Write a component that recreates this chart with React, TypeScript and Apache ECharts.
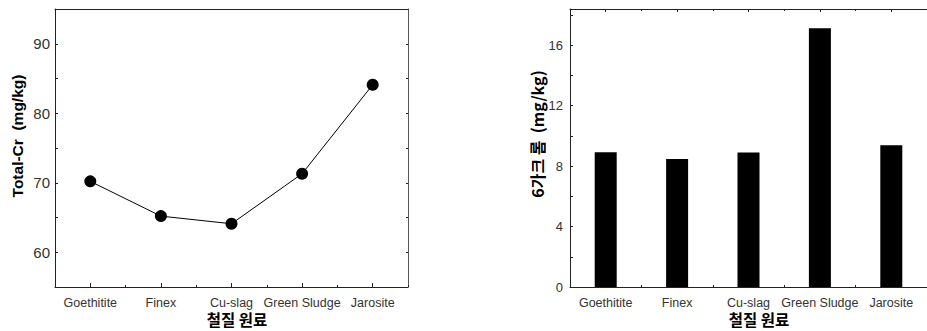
import React, { useEffect, useRef } from "react";
import * as echarts from "echarts";

const categories = ["Goethitite", "Finex", "Cu-slag", "Green Sludge", "Jarosite"];
const totalCr = [70.2, 65.2, 64.1, 71.3, 84.1];
const cr6 = [8.92, 8.48, 8.9, 17.12, 9.38];
const leftYTitle = "Total-Cr  (mg/kg)";
const rightYTitle = "6가크 롬  (mg/kg)";
const xTitle = "철질 원료";

const FONT = "'Liberation Sans', Arial, sans-serif";
const KFONT = "'Noto Sans CJK KR', sans-serif";
const AX = "#222";

function xAxes(gridIndex: number, position: "top" | "bottom", showLabels: boolean, tickLen: number, centerLen: number, showTicks: boolean) {
  return [
    {
      type: "category",
      gridIndex,
      position,
      data: categories,
      boundaryGap: true,
      axisLine: { show: true, onZero: false, lineStyle: { color: AX, width: 1 } },
      axisTick: { show: showTicks, inside: true, length: tickLen, alignWithLabel: false, interval: 0, lineStyle: { color: AX } },
      axisLabel: { show: showLabels, interval: 0, hideOverlap: false, color: "#333", fontSize: 12.5, fontFamily: FONT, margin: 9 },
      splitLine: { show: false },
    },
    {
      type: "category",
      gridIndex,
      position,
      data: categories,
      boundaryGap: true,
      axisLine: { show: false, onZero: false },
      axisTick: { show: showTicks, inside: true, length: centerLen, alignWithLabel: true, interval: 0, lineStyle: { color: AX } },
      axisLabel: { show: false },
      splitLine: { show: false },
    },
  ];
}

export default function App() {
  const ref = useRef<HTMLDivElement>(null);
  useEffect(() => {
    if (!ref.current) return;
    const chart = echarts.init(ref.current, null, { renderer: "svg" });
    const option: any = {
      animation: false,
      backgroundColor: "#fff",
      grid: [
        { left: 55, top: 9, width: 353, height: 278 },
        { left: 570, top: 9, width: 357, height: 278 },
      ],
      xAxis: [
        ...xAxes(0, "bottom", true, 2, 4, true),
        ...xAxes(0, "top", false, 2, 4, false),
        ...xAxes(1, "bottom", true, 2, 4, true),
        ...xAxes(1, "top", false, 2, 3, true),
      ],
      yAxis: [
        {
          type: "value",
          gridIndex: 0,
          position: "left",
          min: 55,
          max: 95,
          interval: 5,
          axisLine: { show: true, lineStyle: { color: AX } },
          axisTick: { show: true, inside: true, length: 3, lineStyle: { color: AX } },
          axisLabel: {
            color: "#333",
            fontSize: 15,
            fontFamily: FONT,
            margin: 5,
            formatter: (v: number) => (v % 10 === 0 ? String(v) : ""),
          },
          splitLine: { show: false },
        },
        {
          type: "value",
          gridIndex: 0,
          position: "right",
          min: 55,
          max: 95,
          interval: 5,
          axisLine: { show: true, lineStyle: { color: "#555" } },
          axisTick: { show: true, inside: true, length: 2, lineStyle: { color: AX } },
          axisLabel: { show: false },
          splitLine: { show: false },
        },
        {
          type: "value",
          gridIndex: 1,
          position: "left",
          min: 0,
          max: 18.4,
          interval: 2,
          axisLine: { show: true, lineStyle: { color: AX } },
          axisTick: { show: true, inside: true, length: 3, lineStyle: { color: AX } },
          axisLabel: {
            color: "#333",
            fontSize: 13,
            fontFamily: FONT,
            margin: 7,
            showMaxLabel: false,
            formatter: (v: number) => (v % 4 === 0 ? String(v) : ""),
          },
          splitLine: { show: false },
        },
      ],
      series: [
        {
          type: "line",
          xAxisIndex: 0,
          yAxisIndex: 0,
          data: totalCr,
          symbol: "circle",
          symbolSize: 12,
          itemStyle: { color: "#000" },
          lineStyle: { color: "#000", width: 1 },
        },
        {
          type: "bar",
          xAxisIndex: 4,
          yAxisIndex: 2,
          data: cr6,
          barWidth: 22,
          itemStyle: { color: "#000" },
        },
      ],
      graphic: [
        {
          type: "text",
          x: 17,
          y: 136,
          rotation: Math.PI / 2,
          style: {
            text: leftYTitle,
            fill: "#000",
            font: `bold 15.5px ${FONT}`,
            align: "center",
            verticalAlign: "middle",
          },
        },
        {
          type: "text",
          x: 537,
          y: 134,
          rotation: Math.PI / 2,
          style: {
            text: rightYTitle,
            fill: "#000",
            font: `bold 16px ${KFONT}`,
            align: "center",
            verticalAlign: "middle",
          },
        },
        {
          type: "text",
          x: 237,
          y: 319,
          style: {
            text: xTitle,
            fill: "#000",
            font: `bold 15.5px ${KFONT}`,
            align: "center",
            verticalAlign: "middle",
          },
        },
        {
          type: "text",
          x: 759,
          y: 319,
          style: {
            text: xTitle,
            fill: "#000",
            font: `bold 15.5px ${KFONT}`,
            align: "center",
            verticalAlign: "middle",
          },
        },
      ],
    };
    chart.setOption(option);
    return () => chart.dispose();
  }, []);
  return (
    <div
      ref={ref}
      style={{ position: "fixed", left: 0, top: 0, width: 927, height: 331, background: "#fff" }}
    />
  );
}
